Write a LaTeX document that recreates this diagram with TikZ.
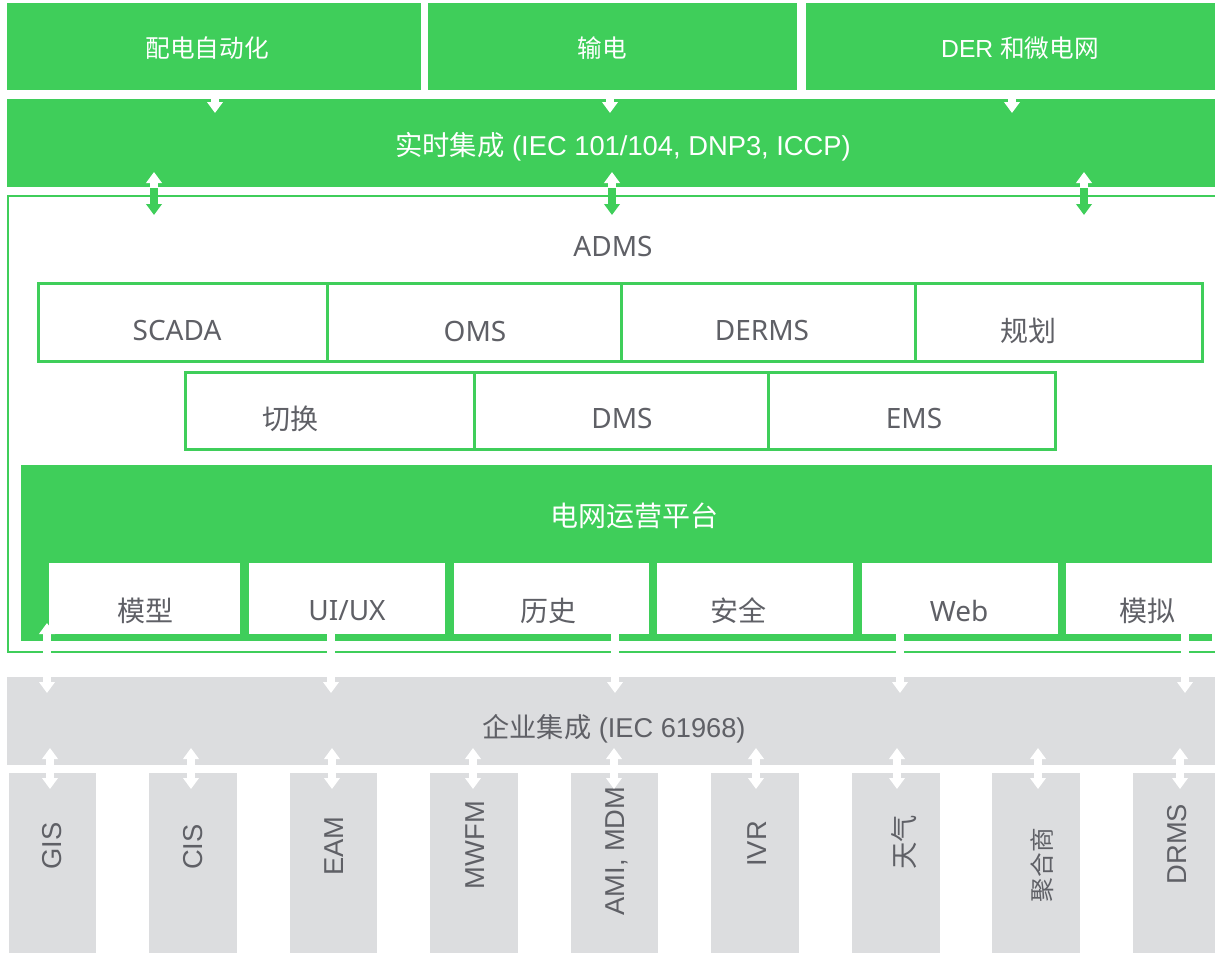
\documentclass[tikz,border=0pt]{standalone}
\usepackage{fontspec}
\setmainfont{Liberation Sans}
\newfontfamily\cjk{Noto Sans CJK SC}
\newfontfamily\seg{Noto Sans}
\usetikzlibrary{arrows.meta}
\definecolor{grn}{RGB}{63,206,90}
\definecolor{lgray}{RGB}{220,221,223}
\definecolor{tgray}{RGB}{95,96,102}
\newcommand\rbox[7]{\node[#1, minimum width={(#5-#3)*0.75pt}, minimum height={(#6-#4)*0.75pt}] (#2) at ({(#3+#5)/2},{(#4+#6)/2}) {#7};}
\tikzset{
  gfill/.style={fill=grn, draw=none, rectangle},
  wfill/.style={fill=white, draw=none, rectangle},
  gyfill/.style={fill=lgray, draw=none, rectangle},
  gframe/.style={draw=grn, line width=1.5pt, rectangle},
  gcell/.style={draw=grn, fill=white, line width=2.25pt, rectangle},
  toptxt/.style={text=white, font=\fontsize{18.5}{22}\selectfont},
  bartxt/.style={text=white, font=\fontsize{20.5}{24}\selectfont},
  lbl/.style={text=tgray, font=\fontsize{21}{25}\selectfont},
  plattxt/.style={text=white, font=\fontsize{21}{25}\selectfont},
  enttxt/.style={text=tgray, font=\fontsize{20.4}{24}\selectfont},
  systxt/.style={text=tgray, rotate=90, font=\fontsize{20.5}{24}\selectfont},
  systxts/.style={text=tgray, rotate=90, font=\fontsize{18.5}{22}\selectfont},
  warrow/.style={draw=white, line width=6pt, -{Triangle[width=11.5pt,length=8.25pt]}},
  wbiarrow/.style={draw=white, line width=6pt, {Triangle[width=11.5pt,length=8.25pt]}-{Triangle[width=11.5pt,length=8.25pt]}},
  garrow/.style={draw=grn, line width=6pt, -{Triangle[width=11.5pt,length=8.25pt]}},
}
\begin{document}
\begin{tikzpicture}[x=0.75pt,y=-0.75pt, every node/.style={inner sep=0pt, outer sep=0pt}]
\path[use as bounding box, fill=white] (0,0) rectangle (1215,953);

% top boxes
\rbox{gfill}{t1}{7}{3}{421}{90}{}
\rbox{gfill}{t2}{428}{3}{797}{90}{}
\rbox{gfill}{t3}{806}{3}{1220}{90}{}
\node[toptxt] (t1t) at (207,48) {\cjk 配电自动化};
\node[toptxt] (t2t) at (602,48) {\cjk 输电};
\node[toptxt] (t3t) at (1020,48) {DER {\cjk 和微电网}};

% real-time bar
\rbox{gfill}{rt}{7}{99}{1220}{187}{}
\node[bartxt] (rtt) at (623,147) {{\cjk 实时集成} (IEC 101/104, DNP3, ICCP)};

% ADMS frame
\rbox{gframe}{adms}{8}{196}{1230}{651.5}{}
\node[lbl] (admst) at (613,247) {\seg ADMS};

% row 1
\rbox{gcell}{c1}{38.5}{283.5}{327}{361.5}{}
\rbox{gcell}{c2}{327}{283.5}{621}{361.5}{}
\rbox{gcell}{c3}{621}{283.5}{915}{361.5}{}
\rbox{gcell}{c4}{915}{283.5}{1202.5}{361.5}{}
\node[lbl] (c1t) at (177,331) {\seg SCADA};
\node[lbl] (c2t) at (475,331) {\seg OMS};
\node[lbl] (c3t) at (762,331) {\seg DERMS};
\node[lbl] (c4t) at (1028,331) {\cjk 规划};

% row 2
\rbox{gcell}{d1}{185.5}{372.5}{474}{449.5}{}
\rbox{gcell}{d2}{474}{372.5}{768}{449.5}{}
\rbox{gcell}{d3}{768}{372.5}{1055.5}{449.5}{}
\node[lbl] (d1t) at (290,419) {\cjk 切换};
\node[lbl] (d2t) at (622,419) {\seg DMS};
\node[lbl] (d3t) at (914,419) {\seg EMS};

% platform
\rbox{gfill}{plat}{21}{465}{1212}{641}{}
\node[plattxt] (platt) at (634,516) {\cjk 电网运营平台};
\rbox{wfill}{m1}{49}{563}{240}{634}{}
\rbox{wfill}{m2}{249}{563}{445}{634}{}
\rbox{wfill}{m3}{454}{563}{649}{634}{}
\rbox{wfill}{m4}{657}{563}{853}{634}{}
\rbox{wfill}{m5}{862}{563}{1058}{634}{}
\rbox{wfill}{m6}{1066}{563}{1225}{634}{}
\node[lbl] (m1t) at (145,611) {\cjk 模型};
\node[lbl] (m2t) at (347,611) {\seg UI/UX};
\node[lbl] (m3t) at (548,611) {\cjk 历史};
\node[lbl] (m4t) at (738,611) {\cjk 安全};
\node[lbl] (m5t) at (959,611) {\seg Web};
\node[lbl] (m6t) at (1147,611) {\cjk 模拟};

% enterprise bar
\rbox{gyfill}{ent}{7}{677}{1220}{765}{}
\node[enttxt] (entt) at (614,729) {{\cjk 企业集成} (IEC 61968)};

% systems
\rbox{gyfill}{s1}{9}{773}{96}{960}{}
\rbox{gyfill}{s2}{149}{773}{237}{960}{}
\rbox{gyfill}{s3}{290}{773}{377}{960}{}
\rbox{gyfill}{s4}{430}{773}{518}{960}{}
\rbox{gyfill}{s5}{571}{773}{658}{960}{}
\rbox{gyfill}{s6}{711}{773}{799}{960}{}
\rbox{gyfill}{s7}{852}{773}{940}{960}{}
\rbox{gyfill}{s8}{992}{773}{1080}{960}{}
\rbox{gyfill}{s9}{1133}{773}{1221}{960}{}
\node[systxt] (s1t) at (52,846) {GIS};
\node[systxt] (s2t) at (193,847) {CIS};
\node[systxt] (s3t) at (334,846) {EAM};
\node[systxt] (s4t) at (475,845) {MWFM};
\node[systxt] (s5t) at (617,851) {AMI, MDM};
\node[systxt] (s6t) at (757,844) {IVR};
\node[systxt] (s7t) at (904,842) {\cjk 天气};
\node[systxts] (s8t) at (1042,865) {\cjk 聚合商};
\node[systxt] (s9t) at (1177,844) {DRMS};

% arrows: top boxes -> real-time bar
\foreach \x [count=\i] in {215,610,1012} {
  \coordinate (ta\i) at (\x,90);
  \coordinate (tb\i) at (\x,113);
  \draw[warrow] (ta\i) -- (tb\i);
}
% arrows: real-time bar <-> ADMS
\foreach \x [count=\i] in {154,612,1084} {
  \coordinate (ba\i) at (\x,188);
  \coordinate (bu\i) at (\x,172);
  \coordinate (bd\i) at (\x,215);
  \draw[warrow] (ba\i) -- (bu\i);
  \draw[garrow] (ba\i) -- (bd\i);
}
% arrows: platform -> enterprise
\coordinate (mu0) at (47,623);
\coordinate (md0) at (47,693);
\draw[wbiarrow] (mu0) -- (md0);
\foreach \x [count=\i] in {331,615,900,1185} {
  \coordinate (mu\i) at (\x,628);
  \coordinate (md\i) at (\x,693);
  \draw[warrow] (mu\i) -- (md\i);
}
% arrows: enterprise <-> systems
\foreach \x [count=\i] in {50,191,332,473,614,756,897,1038,1180} {
  \coordinate (eu\i) at (\x,748);
  \coordinate (ed\i) at (\x,789);
  \draw[wbiarrow] (eu\i) -- (ed\i);
}
\end{tikzpicture}
\end{document}
